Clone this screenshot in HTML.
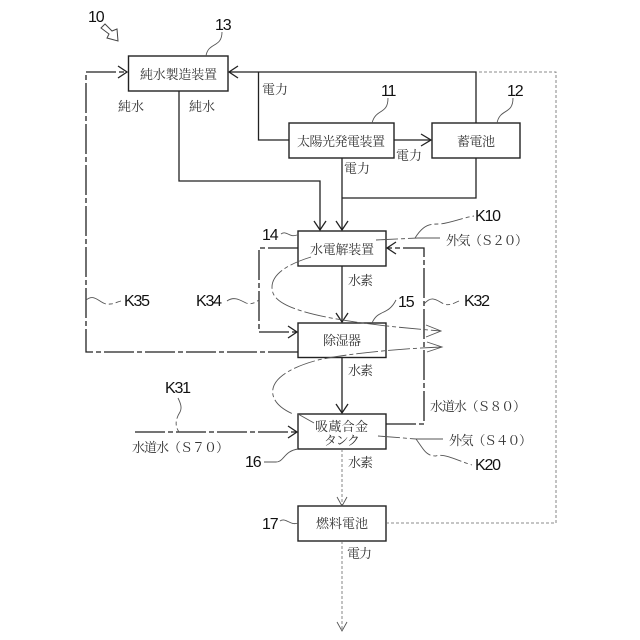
<!DOCTYPE html>
<html><head><meta charset="utf-8"><style>
html,body{margin:0;padding:0;background:#fff}
svg{display:block}
.j{font-family:"Liberation Serif","Noto Serif CJK SC",serif;font-size:13px;fill:#333}
.n{font-family:"Liberation Sans",sans-serif;font-size:16px;fill:#111;letter-spacing:-1.2px}
.b{fill:none;stroke:#222;stroke-width:1.4}
.s{fill:none;stroke:#222;stroke-width:1.3}
.dc{fill:none;stroke:#222;stroke-width:1.3;stroke-dasharray:30 3 5 3}
.da{fill:none;stroke:#666;stroke-width:.8;stroke-dasharray:3 2}
.l{fill:none;stroke:#555;stroke-width:.9}
.ld{fill:none;stroke:#555;stroke-width:.9;stroke-dasharray:22 3 4 3}
.a{fill:none;stroke:#222;stroke-width:1.3}
.ag{fill:none;stroke:#555;stroke-width:.9}
</style></head><body>
<svg width="640" height="640" viewBox="0 0 640 640" xmlns="http://www.w3.org/2000/svg">
<rect class="b" x="128.5" y="56" width="99.5" height="35"/>
<rect class="b" x="289" y="123" width="105" height="35"/>
<rect class="b" x="432" y="123" width="88" height="35"/>
<rect class="b" x="298" y="231" width="88" height="35"/>
<rect class="b" x="298" y="323" width="88" height="34.5"/>
<rect class="b" x="298" y="414" width="88" height="35"/>
<rect class="b" x="298" y="506" width="88" height="35"/>

<path class="s" d="M229 72H476V123M258.500 72V140H289"/>
<path class="a" d="M238 66L229 72L238 78"/>
<path class="s" d="M179 91V181H320V230"/>
<path class="a" d="M314 221L320 230L326 221"/>
<path class="s" d="M342 158V230M342 198H476V158"/>
<path class="a" d="M336 221L342 230L348 221"/>
<path class="s" d="M394 140H431"/>
<path class="a" d="M421 134L431 140L421 146"/>
<path class="s" d="M342 266V322"/>
<path class="a" d="M336 313L342 322L348 313"/>
<path class="s" d="M342 357.500V413"/>
<path class="a" d="M336 404L342 413L348 404"/>

<path class="dc" d="M298 352H86V72H127"/>
<path class="a" d="M118 66L127 72L118 78"/>
<path class="dc" d="M298 248H259V332H297"/>
<path class="a" d="M288 326L297 332L288 338"/>
<path class="dc" d="M386 424H424V248H387"/>
<path class="a" d="M396 242L387 248L396 254"/>
<path class="dc" d="M135 432H297"/>
<path class="a" d="M288 426L297 432L288 438"/>

<path class="da" d="M342 449V505M342 541V631"/>
<path class="ag" d="M337 497L342 506L347 497M337 622L342 631L347 622"/>
<path class="da" d="M386 523H556V72H476"/>

<path class="ld" d="M311 257C282 266 268 278 273 293C280 312 340 323 441 331"/>
<path class="ag" d="M426 325L441 331L426 337"/>
<path class="ld" d="M442 347C390 349 340 355 318 360C288 368 270 380 273 395C275 404 284 410 293 414"/>
<path class="ag" d="M427 342L442 347L427 352"/>
<path class="ld" d="M298 414L314 423"/>
<path class="ld" d="M376 240L418 238"/>
<path class="l" d="M418 238H440"/>
<path class="ld" d="M378 436L416 439"/>
<path class="l" d="M416 439H443"/>

<path class="l" d="M206 56C208 42 222 48 222 32"/>
<path class="l" d="M372 123C376 108 388 115 388 98"/>
<path class="l" d="M497 123C500 108 513 115 513 98"/>
<path class="l" d="M281 234C287 230 289 238 297 235"/>
<path class="l" d="M372 323C378 309 388 316 396 300"/>
<path class="l" d="M298 449C284 451 284 462 276 462H264"/>
<path class="l" d="M280 521C286 517 290 526 298 523"/>
<path class="ld" d="M415 238C424 224 430 224 440 224C450 223 462 218 474 216"/>
<path class="ld" d="M416 439C424 450 426 456 436 456C444 453 456 460 472 465"/>
<path class="ld" d="M86 300C96 292 100 306 110 304C114 304 117 302 121 301"/>
<path class="ld" d="M227 301C234 296 240 300 246 303C252 305 256 302 259 300"/>
<path class="ld" d="M424 304C432 295 436 300 444 304C450 306 454 303 459 301"/>
<path class="ld" d="M178 398C181 404 182 408 180 412C175 420 175 426 179 432"/>

<path d="M101 28L105 24L112 31L117 29L118 41L107 38L109 34Z" fill="none" stroke="#444" stroke-width="1"/>

<text class="n" x="88" y="22">10</text>
<text class="n" x="215" y="30">13</text>
<text class="n" x="381" y="96">11</text>
<text class="n" x="507" y="96">12</text>
<text class="n" x="262" y="240">14</text>
<text class="n" x="398" y="307">15</text>
<text class="n" x="245" y="467">16</text>
<text class="n" x="262" y="529">17</text>
<text class="n" x="475" y="221">K10</text>
<text class="n" x="124" y="306">K35</text>
<text class="n" x="196" y="306">K34</text>
<text class="n" x="464" y="306">K32</text>
<text class="n" x="165" y="393">K31</text>
<text class="n" x="475" y="470">K20</text>

<text class="j" x="140" y="79" textLength="77">純水製造装置</text>
<text class="j" x="297" y="146" textLength="88">太陽光発電装置</text>
<text class="j" x="457" y="146" textLength="38">蓄電池</text>
<text class="j" x="310" y="254" textLength="64">水電解装置</text>
<text class="j" x="323" y="345" textLength="38">除湿器</text>
<text class="j" x="315" y="431" textLength="53">吸蔵合金</text>
<text class="j" x="324" y="445" textLength="36">タンク</text>
<text class="j" x="316" y="528" textLength="52">燃料電池</text>
<text class="j" x="118" y="111" textLength="26">純水</text>
<text class="j" x="189" y="111" textLength="26">純水</text>
<text class="j" x="262" y="94" textLength="26">電力</text>
<text class="j" x="396" y="160" textLength="26">電力</text>
<text class="j" x="344" y="173" textLength="26">電力</text>
<text class="j" x="348" y="285" textLength="25">水素</text>
<text class="j" x="348" y="375" textLength="25">水素</text>
<text class="j" x="348" y="467" textLength="25">水素</text>
<text class="j" x="347" y="558" textLength="25">電力</text>
<text class="j" x="446" y="245" textLength="82">外気（Ｓ２０）</text>
<text class="j" x="430" y="411" textLength="96">水道水（Ｓ８０）</text>
<text class="j" x="132" y="452" textLength="97">水道水（Ｓ７０）</text>
<text class="j" x="449" y="445" textLength="83">外気（Ｓ４０）</text>
</svg>
</body></html>
